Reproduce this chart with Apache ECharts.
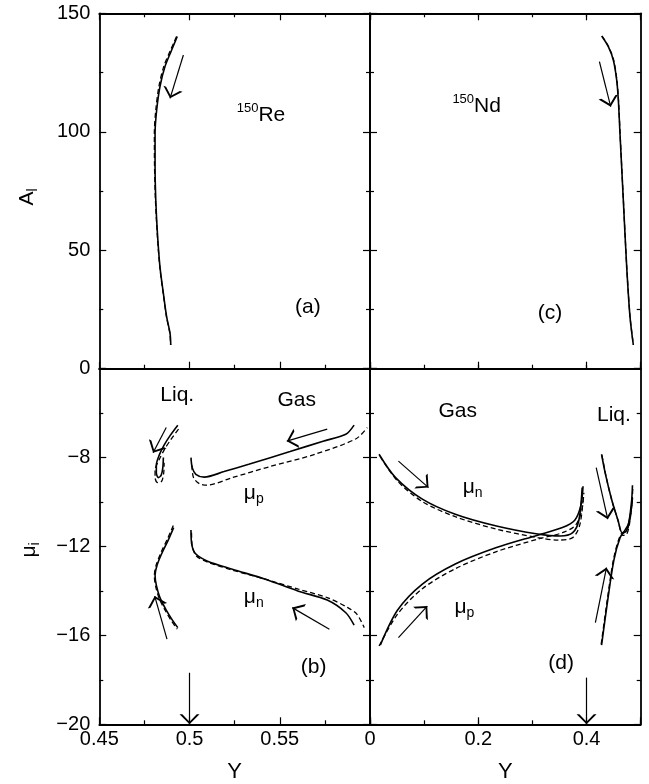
<!DOCTYPE html>
<html>
<head>
<meta charset="utf-8">
<script src="https://cdn.jsdelivr.net/npm/echarts@6/dist/echarts.min.js"></script>
<style>
html,body{margin:0;padding:0;background:#fff;}
#chart{width:649px;height:784px;}
</style>
</head>
<body>
<div id="chart"></div>
<script>
// (a) 150Re : A_l vs Y
var aSolid  = [[0.4932,140.2],[0.4901,134.5],[0.4864,127.5],[0.4836,119.0],[0.4818,109.2],[0.4809,99.4],[0.4809,85.3],[0.4813,71.2],[0.4822,57.2],[0.4836,43.1],[0.4855,31.8],[0.4873,22.0],[0.4892,14.9],[0.4896,10.0]];
var aDashed = [[0.4928,140.2],[0.4895,134.5],[0.4857,127.5],[0.4830,119.0],[0.4813,109.2],[0.4805,99.4],[0.4806,85.3],[0.4811,71.2],[0.4821,57.2],[0.4835,43.1],[0.4854,31.8],[0.4872,22.0],[0.4891,14.9],[0.4895,10.0]];
// (c) 150Nd
var cSolid  = [[0.4280,140.4],[0.4402,135.9],[0.4494,130.3],[0.4556,121.9],[0.4587,113.4],[0.4617,99.4],[0.4679,71.2],[0.4741,43.1],[0.4802,22.0],[0.4864,10.0]];
var cDashed = [[0.4285,140.4],[0.4408,135.9],[0.4500,130.3],[0.4560,121.9],[0.4590,113.4],[0.4619,99.4],[0.4680,71.2],[0.4742,43.1],[0.4803,22.0],[0.4865,10.0]];
// (b) chemical potentials, 150Re
var bLiqPSolid  = [[0.4935,-6.54],[0.4894,-6.99],[0.4859,-7.44],[0.4832,-7.89],[0.4816,-8.34],[0.4816,-8.68],[0.4827,-8.90],[0.4843,-8.79],[0.4852,-8.45],[0.4855,-8.00]];
var bLiqPDashed = [[0.4939,-6.72],[0.4898,-7.17],[0.4862,-7.62],[0.4830,-8.12],[0.4809,-8.57],[0.4809,-8.90],[0.4825,-9.13],[0.4846,-9.06],[0.4857,-8.68],[0.4859,-8.23]];
var bGasPSolid  = [[0.5008,-8.00],[0.5015,-8.45],[0.5035,-8.75],[0.5081,-8.88],[0.5191,-8.63],[0.5328,-8.30],[0.5557,-7.73],[0.5740,-7.26],[0.5866,-6.95],[0.5912,-6.54]];
var bGasPDashed = [[0.5013,-8.34],[0.5022,-8.90],[0.5054,-9.17],[0.5095,-9.24],[0.5237,-8.90],[0.5443,-8.41],[0.5695,-7.85],[0.5923,-7.15],[0.5985,-6.65]];
var bLiqNSolid  = [[0.4912,-11.15],[0.4882,-11.71],[0.4848,-12.28],[0.4820,-12.84],[0.4809,-13.29],[0.4816,-13.74],[0.4836,-14.30],[0.4871,-14.86],[0.4905,-15.31],[0.4935,-15.65]];
var bLiqNDashed = [[0.4910,-11.05],[0.4878,-11.65],[0.4843,-12.25],[0.4815,-12.84],[0.4805,-13.32],[0.4812,-13.78],[0.4832,-14.34],[0.4867,-14.90],[0.4901,-15.36],[0.4932,-15.72]];
var bGasNSolid  = [[0.5008,-11.26],[0.5013,-11.94],[0.5035,-12.34],[0.5100,-12.66],[0.5237,-13.02],[0.5420,-13.47],[0.5603,-14.01],[0.5763,-14.41],[0.5866,-14.98],[0.5912,-15.54]];
var bGasNDashed = [[0.5011,-11.38],[0.5015,-11.98],[0.5038,-12.43],[0.5100,-12.70],[0.5237,-13.06],[0.5420,-13.47],[0.5603,-13.92],[0.5763,-14.30],[0.5877,-14.75],[0.5927,-15.04],[0.5968,-15.65]];
// (d) chemical potentials, 150Nd
var dGasNSolid  = [[0.0167,-7.85],[0.0472,-8.90],[0.0967,-9.87],[0.1575,-10.55],[0.2336,-11.08],[0.3097,-11.44],[0.3516,-11.53],[0.3744,-11.38],[0.3858,-10.82],[0.3919,-9.35]];
var dGasNDashed = [[0.0183,-7.94],[0.0510,-9.06],[0.0967,-9.98],[0.1575,-10.66],[0.2336,-11.22],[0.3097,-11.60],[0.3478,-11.71],[0.3744,-11.60],[0.3874,-11.04],[0.3935,-9.92]];
var dGasPSolid  = [[0.0190,-16.44],[0.0510,-14.86],[0.0967,-13.69],[0.1575,-12.79],[0.2336,-12.05],[0.3097,-11.49],[0.3554,-11.15],[0.3782,-10.82],[0.3896,-10.14],[0.3935,-9.29]];
var dGasPDashed = [[0.0167,-16.48],[0.0510,-15.04],[0.0967,-13.90],[0.1575,-13.00],[0.2336,-12.23],[0.3097,-11.67],[0.3554,-11.38],[0.3797,-11.04],[0.3912,-10.37],[0.3950,-9.58]];
var dLiqNSolid  = [[0.4277,-7.85],[0.4353,-8.79],[0.4467,-9.92],[0.4581,-10.82],[0.4658,-11.38],[0.4734,-11.31],[0.4787,-10.82],[0.4833,-9.92],[0.4848,-9.24]];
var dLiqNDashed = [[0.4285,-7.90],[0.4360,-8.85],[0.4475,-10.00],[0.4590,-10.90],[0.4665,-11.50],[0.4740,-11.45],[0.4795,-10.95],[0.4840,-10.00],[0.4855,-9.30]];
var dLiqPSolid  = [[0.4277,-16.44],[0.4391,-14.41],[0.4505,-12.61],[0.4619,-11.60],[0.4711,-11.26],[0.4772,-11.00],[0.4817,-10.48],[0.4848,-9.80]];
var dLiqPDashed = [[0.4270,-16.40],[0.4385,-14.35],[0.4500,-12.55],[0.4615,-11.55],[0.4705,-11.35],[0.4768,-11.15],[0.4812,-10.60],[0.4845,-9.90]];

// arrows: [x0, y0, x1 (head), y1 (head)]
var aArrows = [[0.4966,132.4,0.4892,114.1]];
var cArrows = [[0.4237,129.6,0.4446,110.6]];
var bArrows = [[0.5763,-6.72,0.5539,-7.26],[0.4871,-6.65,0.4798,-7.78],[0.4875,-16.17,0.4807,-14.23],[0.5775,-15.72,0.5569,-14.75],[0.5,-17.68,0.5,-20]];
var dArrows = [[0.0525,-8.16,0.1081,-9.35],[0.0525,-16.10,0.1058,-14.68],[0.4178,-8.45,0.4391,-10.77],[0.4163,-15.43,0.4368,-12.95],[0.4,-17.9,0.4,-20]];

// text notes: [text, x, y]
var aTexts = [['{sup|150}{big|Re}',0.5396,107],['{big|(a)}',0.5656,26]];
var cTexts = [['{sup|150}{big|Nd}',0.197,110.6],['{big|(c)}',0.3325,23.5]];
var bTexts = [['{big|Liq.}',0.4932,-5.19],['{big|Gas}',0.5594,-5.42],['{big|μ}{sub|p}',0.5356,-9.58],['{big|μ}{sub|n}',0.5356,-14.30],['{big|(b)}',0.5688,-17.45]];
var dTexts = [['{big|Gas}',0.1621,-5.91],['{big|Liq.}',0.4505,-6.09],['{big|μ}{sub|n}',0.1895,-9.35],['{big|μ}{sub|p}',0.1743,-14.75],['{big|(d)}',0.3531,-17.23]];

var FONT = 'Liberation Sans, Arial, Helvetica, sans-serif';
var rich = {
	big: {fontSize: 21, fontFamily: FONT, color: '#000'},
	sup: {fontSize: 13, fontFamily: FONT, color: '#000', padding: [0, 0, 14, 0]},
	sub: {fontSize: 14, fontFamily: FONT, color: '#000', padding: [12, 0, 0, 0]}
};
var ARROW = 'path://M5,0 L10,13 L8.6,13 L5,3.4 L1.4,13 L0,13 Z M5,-13 L5.02,-13 L5,-12.98 Z';

function axis(gridIndex, position, min, max, interval, o) {
	o = o || {};
	return {
		type: 'value', gridIndex: gridIndex, position: position,
		min: min, max: max, interval: interval,
		axisLine: {show: o.line !== false, onZero: false, lineStyle: {color: '#000', width: 1.8}},
		axisTick: {show: !o.noTick, inside: true, length: o.tickLen || 7, lineStyle: {color: '#000', width: 1.2}},
		minorTick: {show: !!o.minor, splitNumber: 2, length: 4, lineStyle: {color: '#000', width: 1.2}},
		splitLine: {show: false},
		axisLabel: {show: !!o.fmt, formatter: o.fmt, fontSize: 20, color: '#000', fontFamily: FONT, margin: o.margin || 6}
	};
}
var xLeftFmt = function (v) { return v > 0.59 ? '' : String(Math.round(v * 100) / 100); };
var xRightFmt = function (v) { return v > 0.45 ? '' : String(Math.round(v * 10) / 10); };
var yFmt = function (v) {
	if (v < 0 && v > -5) return '';
	return v < 0 ? '\u2212' + (-v) : String(v);
};

function curve(xi, yi, data, dashed) {
	return {
		type: 'line', xAxisIndex: xi, yAxisIndex: yi, data: data,
		symbol: 'none', smooth: 0.3, silent: true,
		lineStyle: {color: '#000', width: dashed ? 1.3 : 1.6, type: dashed ? [5, 3] : 'solid'}
	};
}
function arrows(xi, yi, list) {
	return {
		type: 'lines', coordinateSystem: 'cartesian2d', xAxisIndex: xi, yAxisIndex: yi,
		symbol: ['none', ARROW], symbolSize: [7, 20], silent: true,
		lineStyle: {color: '#000', width: 1.2, opacity: 1},
		data: list.map(function (a) { return {coords: [[a[0], a[1]], [a[2], a[3]]]}; })
	};
}
function notes(xi, yi, list) {
	return {
		type: 'scatter', xAxisIndex: xi, yAxisIndex: yi, symbolSize: 1, silent: true,
		itemStyle: {color: 'rgba(0,0,0,0)'},
		label: {
			show: true, position: 'inside', color: '#000', opacity: 1,
			textBorderWidth: 0, textBorderColor: 'transparent',
			formatter: function (p) { return p.name; }, rich: rich
		},
		data: list.map(function (t) { return {name: t[0], value: [t[1], t[2]]}; })
	};
}

var myChart = echarts.init(document.getElementById('chart'));
var option = {
	animation: false,
	textStyle: {fontFamily: FONT},
	grid: [
		{left: 99.3, top: 13.3, width: 270.7, height: 355.4},
		{left: 370, top: 13.3, width: 270.7, height: 355.4},
		{left: 99.3, top: 368.7, width: 270.7, height: 355.6},
		{left: 370, top: 368.7, width: 270.7, height: 355.6}
	],
	xAxis: [
		axis(0, 'bottom', 0.45, 0.6, 0.05, {minor: true}),
		axis(0, 'top', 0.45, 0.6, 0.05, {minor: true}),
		axis(1, 'bottom', 0, 0.5, 0.2),
		axis(1, 'bottom', 0, 0.5, 0.1, {line: false, tickLen: 4}),
		axis(1, 'top', 0, 0.5, 0.2),
		axis(1, 'top', 0, 0.5, 0.1, {line: false, tickLen: 4}),
		axis(2, 'bottom', 0.45, 0.6, 0.05, {minor: true, fmt: xLeftFmt, margin: 5}),
		axis(2, 'top', 0.45, 0.6, 0.05, {noTick: true}),
		axis(3, 'bottom', 0, 0.5, 0.2, {fmt: xRightFmt, margin: 5}),
		axis(3, 'bottom', 0, 0.5, 0.1, {line: false, tickLen: 4}),
		axis(3, 'top', 0, 0.5, 0.2, {noTick: true})
	],
	yAxis: [
		axis(0, 'left', 0, 150, 50, {minor: true, fmt: yFmt, margin: 9}),
		axis(0, 'right', 0, 150, 50, {minor: true}),
		axis(1, 'left', 0, 150, 50, {minor: true}),
		axis(1, 'right', 0, 150, 50, {minor: true}),
		axis(2, 'left', -20, -4, 4, {minor: true, fmt: yFmt, margin: 9}),
		axis(2, 'right', -20, -4, 4, {minor: true}),
		axis(3, 'left', -20, -4, 4, {minor: true}),
		axis(3, 'right', -20, -4, 4, {minor: true})
	],
	graphic: [
		{type: 'text', x: 27, y: 197, rotation: Math.PI / 2,
			style: {text: '{big|A}{sub|l}', rich: rich, align: 'center', verticalAlign: 'middle'}},
		{type: 'text', x: 29, y: 550, rotation: Math.PI / 2,
			style: {text: '{big|μ}{sub|i}', rich: rich, align: 'center', verticalAlign: 'middle'}},
		{type: 'text', x: 234.6, y: 772, style: {text: 'Y', fontSize: 22, fontFamily: FONT, fill: '#000', align: 'center', verticalAlign: 'middle'}},
		{type: 'text', x: 505.4, y: 772, style: {text: 'Y', fontSize: 22, fontFamily: FONT, fill: '#000', align: 'center', verticalAlign: 'middle'}}
	],
	series: [
		curve(0, 0, aSolid), curve(0, 0, aDashed, true),
		arrows(0, 0, aArrows), notes(0, 0, aTexts),
		curve(2, 2, cSolid), curve(2, 2, cDashed, true),
		arrows(2, 2, cArrows), notes(2, 2, cTexts),
		curve(6, 4, bLiqPSolid), curve(6, 4, bLiqPDashed, true),
		curve(6, 4, bGasPSolid), curve(6, 4, bGasPDashed, true),
		curve(6, 4, bLiqNSolid), curve(6, 4, bLiqNDashed, true),
		curve(6, 4, bGasNSolid), curve(6, 4, bGasNDashed, true),
		arrows(6, 4, bArrows), notes(6, 4, bTexts),
		curve(8, 6, dGasNSolid), curve(8, 6, dGasNDashed, true),
		curve(8, 6, dGasPSolid), curve(8, 6, dGasPDashed, true),
		curve(8, 6, dLiqNSolid), curve(8, 6, dLiqNDashed, true),
		curve(8, 6, dLiqPSolid), curve(8, 6, dLiqPDashed, true),
		arrows(8, 6, dArrows), notes(8, 6, dTexts)
	]
};
myChart.setOption(option);
</script>
</body>
</html>
